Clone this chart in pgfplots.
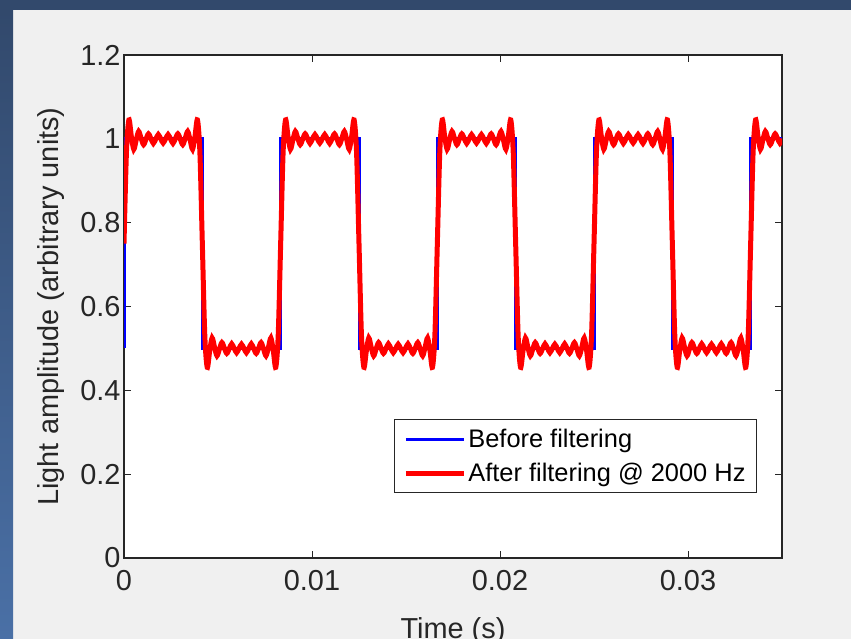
\documentclass[border=0pt]{standalone}
\usepackage{fontspec}
\setmainfont{Liberation Sans}
\usepackage{pgfplots}
\pgfplotsset{compat=1.18}
\definecolor{bgfig}{HTML}{F0F0F0}
\definecolor{frametop}{HTML}{32496C}
\definecolor{framebot}{HTML}{4A70A6}
\definecolor{axcol}{HTML}{262626}
\begin{document}
\begin{tikzpicture}
\fill[bgfig] (0bp,0bp) rectangle (851bp,639bp);
\shade[top color=frametop, bottom color=framebot] (0bp,0bp) rectangle (13bp,629bp);
\fill[frametop] (0bp,629bp) rectangle (851bp,639bp);
\begin{axis}[
  at={(124bp,81bp)}, anchor=south west,
  scale only axis, width=658bp, height=503bp,
  xmin=0, xmax=268.8, ymin=0, ymax=1.2,
  axis background/.style={fill=white},
  axis line style={axcol, line width=1.2bp},
  tick style={axcol, line width=1bp},
  major tick length=7bp,
  tick align=inside, tick pos=both,
  xtick={0,76.8,153.6,230.4}, xticklabels={0,0.01,0.02,0.03},
  ytick={0,0.2,0.4,0.6,0.8,1,1.2}, yticklabels={0,0.2,0.4,0.6,0.8,1,1.2},
  /pgf/number format/assume math mode=true,
  ticklabel style={font=\fontsize{29}{34}\selectfont, text=axcol},
  xticklabel style={yshift=-9bp},
  xlabel={Time (s)},
  xlabel style={at={(axis description cs:0.5,0)}, anchor=north, yshift=-59bp, inner sep=0pt, font=\fontsize{29}{34}\selectfont, text=axcol},
  ylabel={Light amplitude (arbitrary units)},
  ylabel style={at={(axis description cs:-0.1102,0.5)}, anchor=center, inner sep=0pt, font=\fontsize{29}{34}\selectfont, text=axcol},
  legend style={at={(0.962,0.129)}, anchor=south east, draw=axcol, line width=1bp, fill=white,
    font=\fontsize{25.5}{30}\selectfont, inner xsep=9bp, inner ysep=7.5bp, row sep=10bp,
    nodes={inner sep=2bp}},
  legend cell align=left,
  legend image code/.code={\draw[#1] (0bp,0bp) -- (58bp,0bp);},
]
\addplot[blue, line width=3bp] coordinates {
(0,0.5)(0,1)(32,1)(32,0.5)(64,0.5)(64,1)(96,1)(96,0.5)(128,0.5)(128,1)(160,1)(160,0.5)(192,0.5)(192,1)(224,1)(224,0.5)(256,0.5)(256,1)(268.8,1)
};
\addlegendentry{Before filtering}
\addplot[red, line width=5bp, smooth] coordinates {
(0,0.75)(1,0.9683)(2,1.0451)(3,1.0059)(4,0.9751)(5,0.9977)(6,1.0176)(7,1.0011)
(8,0.9861)(9,0.9994)(10,1.0119)(11,1.0004)(12,0.9893)(13,0.9998)(14,1.0101)(15,1.0001)
(16,0.9901)(17,1.0001)(18,1.0101)(19,0.9998)(20,0.9893)(21,1.0004)(22,1.0119)(23,0.9994)
(24,0.9861)(25,1.0011)(26,1.0176)(27,0.9977)(28,0.9751)(29,1.0059)(30,1.0451)(31,0.9683)
(32,0.75)(33,0.5317)(34,0.4549)(35,0.4941)(36,0.5249)(37,0.5023)(38,0.4824)(39,0.4989)
(40,0.5139)(41,0.5006)(42,0.4881)(43,0.4996)(44,0.5107)(45,0.5002)(46,0.4899)(47,0.4999)
(48,0.5099)(49,0.4999)(50,0.4899)(51,0.5002)(52,0.5107)(53,0.4996)(54,0.4881)(55,0.5006)
(56,0.5139)(57,0.4989)(58,0.4824)(59,0.5023)(60,0.5249)(61,0.4941)(62,0.4549)(63,0.5317)
(64,0.75)(65,0.9683)(66,1.0451)(67,1.0059)(68,0.9751)(69,0.9977)(70,1.0176)(71,1.0011)
(72,0.9861)(73,0.9994)(74,1.0119)(75,1.0004)(76,0.9893)(77,0.9998)(78,1.0101)(79,1.0001)
(80,0.9901)(81,1.0001)(82,1.0101)(83,0.9998)(84,0.9893)(85,1.0004)(86,1.0119)(87,0.9994)
(88,0.9861)(89,1.0011)(90,1.0176)(91,0.9977)(92,0.9751)(93,1.0059)(94,1.0451)(95,0.9683)
(96,0.75)(97,0.5317)(98,0.4549)(99,0.4941)(100,0.5249)(101,0.5023)(102,0.4824)(103,0.4989)
(104,0.5139)(105,0.5006)(106,0.4881)(107,0.4996)(108,0.5107)(109,0.5002)(110,0.4899)(111,0.4999)
(112,0.5099)(113,0.4999)(114,0.4899)(115,0.5002)(116,0.5107)(117,0.4996)(118,0.4881)(119,0.5006)
(120,0.5139)(121,0.4989)(122,0.4824)(123,0.5023)(124,0.5249)(125,0.4941)(126,0.4549)(127,0.5317)
(128,0.75)(129,0.9683)(130,1.0451)(131,1.0059)(132,0.9751)(133,0.9977)(134,1.0176)(135,1.0011)
(136,0.9861)(137,0.9994)(138,1.0119)(139,1.0004)(140,0.9893)(141,0.9998)(142,1.0101)(143,1.0001)
(144,0.9901)(145,1.0001)(146,1.0101)(147,0.9998)(148,0.9893)(149,1.0004)(150,1.0119)(151,0.9994)
(152,0.9861)(153,1.0011)(154,1.0176)(155,0.9977)(156,0.9751)(157,1.0059)(158,1.0451)(159,0.9683)
(160,0.75)(161,0.5317)(162,0.4549)(163,0.4941)(164,0.5249)(165,0.5023)(166,0.4824)(167,0.4989)
(168,0.5139)(169,0.5006)(170,0.4881)(171,0.4996)(172,0.5107)(173,0.5002)(174,0.4899)(175,0.4999)
(176,0.5099)(177,0.4999)(178,0.4899)(179,0.5002)(180,0.5107)(181,0.4996)(182,0.4881)(183,0.5006)
(184,0.5139)(185,0.4989)(186,0.4824)(187,0.5023)(188,0.5249)(189,0.4941)(190,0.4549)(191,0.5317)
(192,0.75)(193,0.9683)(194,1.0451)(195,1.0059)(196,0.9751)(197,0.9977)(198,1.0176)(199,1.0011)
(200,0.9861)(201,0.9994)(202,1.0119)(203,1.0004)(204,0.9893)(205,0.9998)(206,1.0101)(207,1.0001)
(208,0.9901)(209,1.0001)(210,1.0101)(211,0.9998)(212,0.9893)(213,1.0004)(214,1.0119)(215,0.9994)
(216,0.9861)(217,1.0011)(218,1.0176)(219,0.9977)(220,0.9751)(221,1.0059)(222,1.0451)(223,0.9683)
(224,0.75)(225,0.5317)(226,0.4549)(227,0.4941)(228,0.5249)(229,0.5023)(230,0.4824)(231,0.4989)
(232,0.5139)(233,0.5006)(234,0.4881)(235,0.4996)(236,0.5107)(237,0.5002)(238,0.4899)(239,0.4999)
(240,0.5099)(241,0.4999)(242,0.4899)(243,0.5002)(244,0.5107)(245,0.4996)(246,0.4881)(247,0.5006)
(248,0.5139)(249,0.4989)(250,0.4824)(251,0.5023)(252,0.5249)(253,0.4941)(254,0.4549)(255,0.5317)
(256,0.75)(257,0.9683)(258,1.0451)(259,1.0059)(260,0.9751)(261,0.9977)(262,1.0176)(263,1.0011)
(264,0.9861)(265,0.9994)(266,1.0119)(267,1.0004)(268,0.9893)(269,0.9998)
};
\addlegendentry{After filtering @ 2000 Hz}
\end{axis}
\pgfresetboundingbox
\useasboundingbox (0bp,0bp) rectangle (851bp,639bp);
\end{tikzpicture}
\end{document}
